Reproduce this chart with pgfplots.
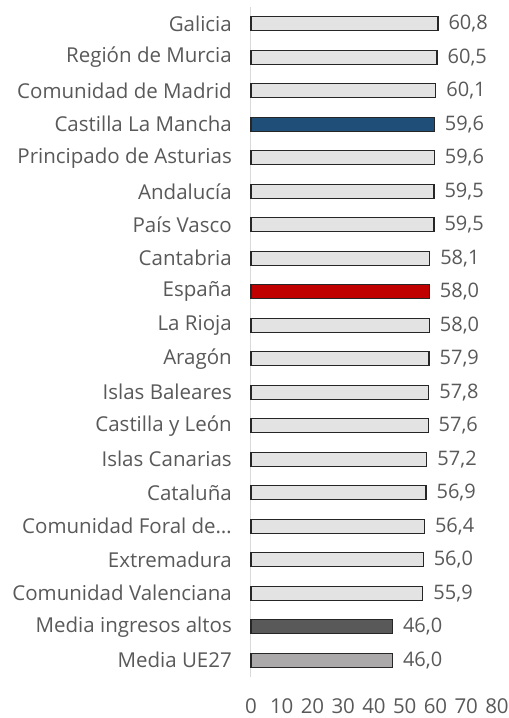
\documentclass[border=0pt]{standalone}
\usepackage{pgfplots}
\pgfplotsset{compat=1.18}
\usepackage{fontspec}
\setmainfont{Open Sans}
\definecolor{txt}{HTML}{595959}
\definecolor{lgray}{HTML}{E3E3E3}
\definecolor{cblue}{HTML}{1F4E79}
\definecolor{cred}{HTML}{C00000}
\definecolor{dgray}{HTML}{595959}
\definecolor{mgray}{HTML}{ABA9A9}
\definecolor{edge}{HTML}{262626}
\definecolor{axl}{HTML}{D9D9D9}
\pgfplotsset{/pgf/number format/assume math mode=true}
\begin{document}
\begin{tikzpicture}[x=1pt,y=1pt]
\useasboundingbox (-251,-41) rectangle (258,677);
\begin{axis}[
  at={(0,0)}, anchor=south west,
  scale only axis, width=246pt, height=670pt,
  xmin=0, xmax=80, ymin=-0.5, ymax=19.5,
  y dir=reverse,
  axis x line*=bottom, axis y line*=left,
  x axis line style={draw=none},
  y axis line style={draw=axl, line width=1pt, -},
  xtick={0,10,...,80},
  ytick={0,...,19},
  major tick length=0pt,
  yticklabels={Galicia, Región de Murcia, Comunidad de Madrid, Castilla La Mancha, Principado de Asturias, Andalucía, País Vasco, Cantabria, España, La Rioja, Aragón, Islas Baleares, Castilla y León, Islas Canarias, Cataluña, Comunidad Foral de…, Extremadura, Comunidad Valenciana, Media ingresos altos, Media UE27},
  tick label style={font=\fontsize{20.5}{24}\selectfont, text=txt, inner sep=0pt},
  yticklabel style={xshift=-19pt},
  xticklabel style={yshift=-21pt},
  xbar, bar width=14pt, bar shift=0pt,
  nodes near coords,
  nodes near coords style={anchor=west, inner sep=0pt, xshift=10pt, font=\fontsize{20}{24}\selectfont, text=txt,
    /pgf/number format/.cd, fixed, fixed zerofill, precision=1, use comma, assume math mode=true},
  clip=false,
]
\addplot[draw=edge, line width=1.2pt, fill=lgray] coordinates {
(60.8,0) (60.5,1) (60.1,2) (59.6,4) (59.5,5) (59.5,6) (58.1,7) (58.0,9) (57.9,10) (57.8,11) (57.6,12) (57.2,13) (56.9,14) (56.4,15) (56.0,16) (55.9,17)};
\addplot[draw=edge, line width=1.2pt, fill=cblue] coordinates {(59.6,3)};
\addplot[draw=edge, line width=1.2pt, fill=cred] coordinates {(58.0,8)};
\addplot[draw=edge, line width=1.2pt, fill=dgray] coordinates {(46.0,18)};
\addplot[draw=edge, line width=1.2pt, fill=mgray] coordinates {(46.0,19)};
\end{axis}
\end{tikzpicture}
\end{document}
